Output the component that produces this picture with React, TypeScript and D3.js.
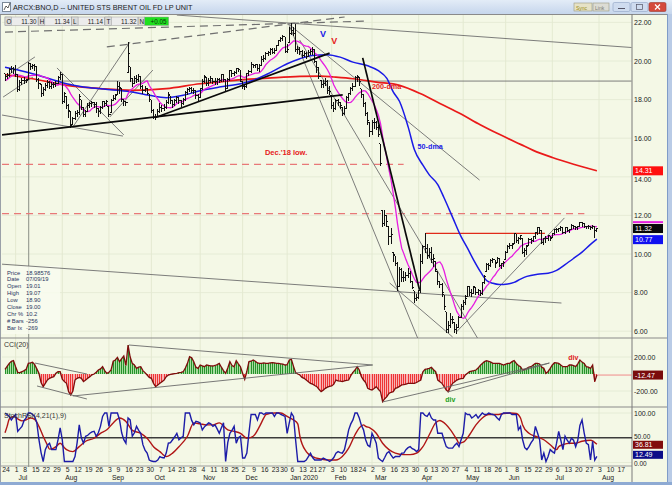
import React from 'react';
import * as d3 from 'd3';

const FONT = '"Liberation Sans", Arial, sans-serif';

// ---------- calendar ----------
const firstDay = '2019-06-24';
const lastAxisDay = '2020-08-21';
const holidays = ['2019-07-04', '2019-09-02', '2019-11-28', '2019-12-25', '2020-01-01', '2020-01-20', '2020-02-17', '2020-04-10', '2020-05-25', '2020-07-03'];
const monthNames = ['Jan', 'Feb', 'Mar', 'Apr', 'May', 'Jun', 'Jul', 'Aug', 'Sep', 'Oct', 'Nov', 'Dec'];

// ---------- price bars (BNO daily) ----------
const priorCloses = [18.7, 18.6, 18.8, 18.9, 18.8, 19.0, 19.1, 19.3, 19.4];
const closes = [
  19.20, 19.25, 19.55, 19.60, 19.55, 19.30, 18.50, 18.90, 19.00,
  19.00, 19.00, 19.85, 19.70, 19.75, 19.70, 19.05, 18.85, 18.33, 18.50,
  18.72, 18.90, 18.70, 18.77, 18.78, 18.86, 19.16, 19.30, 17.90, 18.30,
  17.70, 17.45, 16.65, 17.00, 17.30, 17.33, 18.15, 17.60, 17.25, 17.36,
  17.70, 17.78, 17.85, 17.75, 17.55, 17.38, 17.60, 17.90, 17.80, 17.90,
  17.25, 17.97, 18.05, 18.22, 18.70, 18.65, 18.00, 17.88, 17.83,
  20.40, 19.10, 18.85, 19.07, 19.03, 19.18, 18.68, 18.47, 18.57, 18.33,
  18.00, 17.43, 17.08, 17.08, 17.40, 17.60, 17.55, 17.60, 17.85, 18.25,
  17.95, 17.75, 17.95, 18.10, 17.95, 17.80, 18.00, 18.35, 18.50, 18.60,
  18.45, 18.48, 18.20, 18.10, 18.55, 18.95, 19.20, 18.83, 19.00, 19.07,
  18.96, 18.93, 19.02, 19.00, 19.30, 19.04, 18.58, 19.03, 19.51, 19.33,
  19.41, 19.60, 19.54, 19.04, 18.70, 18.67, 19.34, 19.46, 19.80,
  19.76, 19.80, 19.60, 19.77, 20.10, 20.15, 20.40, 20.45, 20.57, 20.45,
  20.55, 20.82, 21.05, 21.15, 21.25, 20.50, 20.60, 21.40,
  21.60, 21.45, 20.60, 20.60, 20.50, 20.30, 20.40, 20.25, 20.45, 20.50,
  20.60, 20.00, 19.65, 19.20, 18.80, 18.85, 18.95, 18.45, 18.40,
  17.70, 17.55, 17.95, 17.85, 17.70, 17.30, 17.55, 18.10, 18.30, 18.60,
  18.70, 19.15, 19.20, 18.95, 18.25, 17.80, 17.30, 16.90, 16.35,
  16.80, 16.80, 16.55, 16.20, 14.70, 11.60, 12.00, 11.70, 10.90, 11.00,
  10.00, 9.50, 8.30, 9.20, 8.80, 8.80, 8.90, 9.00, 8.60, 8.25,
  7.70, 7.75, 8.10, 9.60, 10.40, 10.30, 9.90, 10.10, 9.70,
  9.75, 9.20, 8.55, 8.40, 8.00, 7.30, 6.10, 6.30, 6.60, 6.60,
  6.10, 6.20, 6.70, 7.30, 7.50, 7.70, 8.30, 8.00, 7.95, 8.30,
  8.00, 8.10, 7.95, 8.50, 8.85, 9.45, 9.40, 9.65, 9.70, 9.50,
  9.75, 9.40, 9.50, 9.55, 10.10, 10.40, 10.45, 10.50, 11.05,
  10.70, 10.80, 10.95, 10.10, 10.20, 10.40, 10.75, 10.70, 10.90, 11.10,
  11.35, 11.20, 10.60, 10.80, 10.80, 10.95, 10.80, 11.05, 11.25,
  11.25, 11.30, 11.35, 11.10, 11.35, 11.20, 11.25, 11.50, 11.40, 11.35,
  11.40, 11.65, 11.60, 11.40, 11.40, 11.40, 11.35, 11.45, 11.20, 11.32,
];
const highs = [
  19.35, 19.40, 19.65, 19.75, 19.70, 19.80, 19.35, 19.00, 19.10,
  19.15, 19.07, 19.95, 19.90, 19.85, 19.85, 19.70, 19.10, 18.80, 18.65,
  18.85, 19.00, 18.95, 18.90, 18.90, 18.95, 19.20, 19.45, 19.35, 18.40,
  18.15, 17.75, 17.40, 17.10, 17.40, 17.45, 18.30, 18.00, 17.60, 17.45,
  17.80, 17.90, 17.95, 17.90, 17.85, 17.55, 17.65, 17.95, 17.95, 18.00,
  17.65, 18.05, 18.25, 18.30, 18.95, 18.90, 18.60, 18.05, 17.95,
  20.96, 19.70, 19.10, 19.20, 19.25, 19.35, 19.20, 18.75, 18.70, 18.60,
  18.30, 18.00, 17.50, 17.25, 17.50, 17.80, 17.70, 17.75, 18.00, 18.40,
  18.20, 18.00, 18.05, 18.20, 18.15, 18.00, 18.10, 18.45, 18.58, 18.65,
  18.65, 18.60, 18.50, 18.30, 18.60, 19.05, 19.30, 19.15, 19.10, 19.20,
  19.10, 19.10, 19.10, 19.12, 19.35, 19.30, 19.05, 19.10, 19.55, 19.55,
  19.50, 19.65, 19.65, 19.55, 18.95, 18.80, 19.40, 19.55, 19.95,
  19.85, 19.85, 19.85, 19.85, 20.25, 20.30, 20.45, 20.50, 20.65, 20.65,
  20.65, 20.85, 21.10, 21.25, 21.35, 21.25, 20.90, 21.75,
  21.95, 21.75, 21.90, 20.80, 20.75, 20.55, 20.50, 20.45, 20.55, 20.60,
  20.75, 20.60, 20.00, 19.70, 19.00, 19.00, 19.10, 19.00, 18.70,
  18.20, 17.85, 18.05, 18.05, 17.90, 17.60, 17.65, 18.20, 18.35, 18.65,
  18.85, 19.20, 19.30, 19.15, 18.55, 18.30, 17.85, 17.35, 16.80,
  16.95, 17.05, 16.90, 16.70, 15.70, 12.25, 12.30, 12.00, 11.40, 11.35,
  10.10, 9.90, 9.60, 9.35, 9.30, 9.10, 9.05, 9.25, 9.10, 8.60,
  8.10, 7.95, 8.15, 10.00, 10.45, 11.07, 10.50, 10.30, 10.35,
  10.00, 9.60, 9.10, 8.60, 8.50, 7.90, 7.00, 6.55, 6.95, 6.80,
  6.45, 6.35, 6.80, 7.40, 7.60, 7.85, 8.35, 8.35, 8.20, 8.35,
  8.25, 8.20, 8.15, 8.55, 8.90, 9.55, 9.55, 9.75, 9.80, 9.70,
  9.85, 9.80, 9.55, 9.65, 10.15, 10.45, 10.55, 10.55, 11.10,
  11.05, 10.90, 11.00, 10.80, 10.30, 10.45, 10.85, 10.85, 10.95, 11.15,
  11.40, 11.40, 11.20, 10.85, 10.95, 11.00, 10.95, 11.10, 11.30,
  11.35, 11.35, 11.45, 11.40, 11.40, 11.40, 11.30, 11.55, 11.50, 11.45,
  11.45, 11.68, 11.65, 11.60, 11.45, 11.50, 11.45, 11.50, 11.45, 11.34,
];
const lows = [
  19.00, 19.10, 19.20, 19.40, 19.35, 19.20, 18.40, 18.45, 18.80,
  18.85, 18.90, 19.05, 19.55, 19.60, 19.50, 18.95, 18.60, 18.15, 18.20,
  18.45, 18.65, 18.55, 18.60, 18.65, 18.70, 18.85, 19.05, 17.80, 17.85,
  17.55, 17.05, 16.55, 16.70, 16.95, 17.15, 17.25, 17.50, 17.10, 17.15,
  17.40, 17.60, 17.65, 17.60, 17.35, 17.15, 17.30, 17.55, 17.65, 17.70,
  17.10, 17.35, 17.95, 18.00, 18.25, 18.30, 17.90, 17.70, 17.70,
  19.40, 18.95, 18.70, 18.85, 18.90, 18.95, 18.60, 18.30, 18.40, 18.25,
  17.90, 17.35, 17.00, 16.95, 17.10, 17.35, 17.40, 17.45, 17.55, 17.80,
  17.80, 17.60, 17.70, 17.85, 17.80, 17.65, 17.75, 17.95, 18.25, 18.40,
  18.35, 18.30, 18.05, 17.95, 18.10, 18.50, 18.90, 18.75, 18.75, 18.90,
  18.85, 18.80, 18.80, 18.90, 18.95, 18.95, 18.45, 18.55, 19.00, 19.20,
  19.25, 19.35, 19.45, 18.95, 18.55, 18.50, 18.65, 19.25, 19.40,
  19.65, 19.65, 19.50, 19.45, 19.75, 20.00, 20.10, 20.30, 20.35, 20.40,
  20.40, 20.55, 20.80, 21.00, 21.05, 20.45, 20.45, 20.95,
  21.35, 21.30, 20.50, 20.40, 20.35, 20.20, 20.25, 20.15, 20.25, 20.35,
  20.35, 19.90, 19.40, 19.10, 18.65, 18.65, 18.75, 18.30, 18.25,
  17.55, 17.40, 17.50, 17.70, 17.55, 17.20, 17.25, 17.55, 17.95, 18.25,
  18.45, 18.70, 18.95, 18.75, 18.10, 17.65, 17.20, 16.70, 16.10,
  16.20, 16.50, 16.45, 16.10, 14.60, 11.45, 11.50, 11.45, 10.50, 10.55,
  9.60, 9.40, 8.10, 8.30, 8.60, 8.55, 8.65, 8.80, 8.50, 8.20,
  7.50, 7.60, 7.70, 8.00, 9.50, 10.10, 9.75, 9.80, 9.55,
  9.35, 9.10, 8.40, 8.25, 7.80, 7.10, 5.94, 5.95, 6.20, 6.40,
  5.95, 5.90, 6.20, 6.70, 7.10, 7.40, 7.80, 7.85, 7.80, 7.95,
  7.90, 7.90, 7.85, 7.90, 8.45, 9.10, 9.20, 9.35, 9.55, 9.30,
  9.55, 9.35, 9.25, 9.35, 9.70, 10.10, 10.30, 10.30, 10.55,
  10.60, 10.55, 10.75, 10.05, 9.85, 9.95, 10.45, 10.55, 10.65, 10.80,
  11.00, 11.05, 10.55, 10.50, 10.60, 10.70, 10.70, 10.85, 11.00,
  11.10, 11.15, 11.20, 11.05, 11.05, 11.15, 11.10, 11.25, 11.30, 11.25,
  11.25, 11.40, 11.45, 11.35, 11.30, 11.30, 11.25, 11.30, 10.85, 11.14,
];

// ---------- moving averages: [trading-day index, value] ----------
const ma50Points: [number, number][] = [
  [0, 19.68], [7, 19.51], [13, 19.34], [21, 19.08], [29, 18.82], [37, 18.65], [45, 18.56], [53, 18.48],
  [60, 18.39], [68, 18.22], [76, 18.1], [84, 18.22], [92, 18.46], [101, 18.65], [111, 18.82], [117, 19.0],
  [124, 19.34], [133, 19.86], [139, 20.12], [145, 20.29], [152, 20.33], [158, 20.2], [164, 19.94], [171, 19.75],
  [176, 19.5], [180, 19.1], [183, 18.4], [186, 17.9], [190, 16.6], [193, 15.4], [197, 14.6], [200, 14.1],
  [204, 13.6], [207, 12.9], [211, 11.9], [215, 10.9], [218, 10.3], [221, 9.67], [224, 9.1], [227, 8.63],
  [230, 8.48], [233, 8.42], [237, 8.45], [240, 8.53], [243, 8.7], [246, 8.84], [251, 8.95], [256, 9.0],
  [260, 9.15], [264, 9.45], [268, 9.77], [272, 10.1], [276, 10.5], [279, 10.77],
];
const ma200Points: [number, number][] = [
  [0, 19.3], [13, 19.08], [29, 18.74], [45, 18.57], [60, 18.48], [76, 18.57], [92, 18.82], [101, 18.91],
  [108, 19.0], [124, 19.11], [139, 19.2], [149, 19.22], [155, 19.17], [164, 19.08], [175, 18.91], [186, 18.74],
  [196, 18.3], [205, 17.8], [215, 17.25], [224, 16.7], [233, 16.2], [243, 15.68], [249, 15.37], [258, 15.0],
  [268, 14.65], [279, 14.31],
];

// ---------- CCI(20) ----------
const cci = [
  55, 90, 125, 150, 157, 86, 20, 16, 27, 40,
  55, 125, 130, 137, 110, 60, 8, -100, -149, -110,
  -70, -51, -40, -31, 8, 27, 27, -60, -90, -110,
  -208, -247, -200, -71, -51, -40, -51, -90, -71, -50,
  -31, -10, 0, 20, 47, 60, 86, 40, 8, 20,
  47, 150, 165, 196, 145, 180, 212, 100, 341, 200,
  125, 106, 67, 80, 86, 40, 16, -12, -40, -51,
  -110, -149, -130, -110, -90, -71, -31, -12, -5, 0,
  5, 8, 15, 20, 27, 70, 125, 204, 190, 145,
  80, 67, 106, 95, 86, 106, 100, 95, 94, 100,
  110, 125, 80, 40, 8, 70, 145, 100, 86, 157,
  120, 86, 8, -63, 30, 145, 150, 165, 150, 130,
  125, 125, 130, 125, 125, 130, 133, 130, 125, 125,
  120, 115, 106, 110, 165, 172, 90, 16, 0, -12,
  -40, -51, -71, -90, -110, -120, -135, -149, -180, -208,
  -190, -169, -155, -145, -141, -120, -71, -80, -85, -90,
  -80, -75, -71, -20, 20, 47, 86, 47, -31, -71,
  -100, -169, -180, -188, -170, -149, -180, -208, -325, -290,
  -267, -227, -215, -208, -169, -160, -145, -129, -125, -120,
  -110, -110, -110, -110, -100, -85, -71, 27, 55, 60,
  67, 78, 50, 27, -71, -90, -110, -150, -188, -208,
  -149, -110, -90, -71, -60, -55, -51, -12, 10, 27,
  35, 40, 47, 70, 100, 125, 145, 157, 150, 140,
  125, 125, 125, 125, 115, 106, 115, 125, 125, 145,
  157, 125, 100, 86, 47, 55, 67, 80, 86, 106,
  125, 125, 118, 80, 67, 8, 30, 67, 106, 133,
  130, 125, 105, 86, 86, 86, 106, 106, 100, 86,
  120, 165, 140, 125, 86, 80, 67, 106, -90, -12.47,
];

// ---------- StochRSI(4,21(1),9) ----------
const stochK = [
  100, 97, 93, 86, 92, 97, 63, 68, 73, 85,
  90, 100, 100, 97, 93, 80, 46, 20, 2, 26,
  35, 39, 26, 26, 26, 46, 70, 46, 2, 2,
  2, 2, 2, 12, 40, 76, 50, 39, 53, 55,
  59, 62, 63, 53, 60, 73, 93, 100, 100, 73,
  100, 100, 100, 100, 86, 60, 46, 39, 90, 86,
  53, 60, 73, 65, 59, 36, 25, 19, 5, 3,
  2, 2, 5, 12, 10, 9, 19, 39, 40, 46,
  52, 59, 46, 50, 53, 100, 100, 100, 85, 76,
  83, 82, 80, 66, 72, 76, 80, 78, 73, 76,
  68, 59, 70, 80, 2, 40, 59, 65, 73, 39,
  50, 53, 9, 9, 19, 60, 97, 97, 97, 86,
  100, 100, 97, 100, 100, 100, 100, 93, 100, 100,
  97, 95, 93, 59, 80, 100, 93, 45, 2, 2,
  2, 2, 5, 12, 19, 10, 5, 5, 5, 5,
  9, 7, 5, 2, 5, 10, 19, 22, 20, 19,
  26, 45, 66, 78, 86, 100, 100, 90, 75, 66,
  46, 35, 32, 59, 50, 39, 9, 5, 2, 10,
  19, 22, 15, 9, 12, 12, 12, 19, 19, 26,
  30, 32, 28, 26, 22, 26, 100, 100, 95, 93,
  100, 90, 86, 86, 59, 59, 59, 45, 32, 29,
  29, 29, 35, 39, 32, 46, 59, 100, 97, 97,
  90, 93, 97, 90, 95, 100, 97, 97, 100, 98,
  97, 95, 90, 86, 97, 100, 100, 100, 100, 97,
  97, 97, 66, 73, 46, 30, 26, 32, 40, 46,
  73, 60, 46, 5, 19, 2, 12, 26, 22, 19,
  39, 63, 45, 26, 53, 45, 39, 49, 45, 32,
  45, 75, 86, 60, 39, 36, 5, 43, 5, 12.49,
];
const stochSignal: [number, number][] = [
  [0, 60], [1, 73], [2, 88], [4, 93], [6, 88], [8, 84], [10, 86], [12, 90], [14, 87], [16, 73], [18, 53],
  [20, 35], [21, 27], [23, 29], [24, 32], [26, 39], [28, 30], [29, 26], [32, 22], [35, 32], [38, 43],
  [42, 49], [45, 59], [48, 66], [51, 80], [54, 90], [57, 83], [60, 65], [64, 59], [67, 49], [70, 32],
  [73, 22], [76, 12], [79, 19], [82, 32], [86, 53], [89, 80], [92, 78], [95, 76], [98, 76], [101, 80],
  [105, 66], [108, 63], [111, 59], [114, 49], [117, 53], [120, 73], [122, 90], [123, 97], [127, 100],
  [130, 100], [133, 93], [136, 86], [138, 78], [139, 53], [142, 22], [145, 12], [149, 7], [152, 5],
  [156, 5], [159, 12], [162, 29], [165, 56], [167, 70], [169, 76], [170, 73], [172, 70], [175, 59],
  [178, 39], [181, 26], [184, 19], [188, 16], [191, 16], [194, 19], [195, 22], [197, 32], [200, 56],
  [203, 80], [205, 85], [206, 83], [210, 66], [213, 46], [214, 39], [216, 41], [219, 56], [222, 76],
  [225, 90], [228, 97], [232, 97], [235, 99], [238, 100], [241, 99], [243, 90], [244, 76], [247, 59],
  [250, 53], [254, 46], [257, 36], [260, 26], [261, 32], [263, 36], [266, 39], [269, 39], [272, 43],
  [276, 45], [279, 36.81],
];

// ---------- drawn annotations in data space: [[dayIndex, value], [dayIndex, value]] ----------
const thickTrendlines: [number, number][][] = [
  [[-1.4, 16.17], [159.2, 18.24]],
  [[71.6, 17.1], [153.0, 20.41]],
  [[168.6, 20.16], [195.4, 8.14]],
];
const thinTrendlines: [number, number][][] = [
  [[81.0, 22.38], [295.3, 20.7]],
  [[133.7, 21.92], [194.5, 5.65]],
  [[138.9, 21.09], [222.7, 5.65]],
  [[134.2, 21.87], [223.7, 13.83]],
  [[-2.35, 9.48], [262.3, 7.46]],
  [[181.3, 8.5], [211.0, 5.7]],
  [[212.8, 5.96], [263.7, 11.87]],
  [[23.5, 18.96], [295.3, 18.96]],
  [[1.4, 19.27], [14.1, 20.21]],
  [[-0.9, 18.13], [13.2, 19.17]],
  [[24.5, 19.64], [56.0, 16.17]],
  [[32.0, 16.58], [58.9, 20.98]],
  [[-1.4, 17.2], [55.6, 16.11]],
  [[49.4, 17.1], [69.7, 19.53]],
];
const dashedTrendlines: [number, number][][] = [
  [[0, 21.5], [170.5, 22.07]],
  [[48.0, 20.73], [160.1, 22.28]],
];
const redLevels = [
  { from: -1.4, to: 187.9, value: 14.64, dashed: true },
  { from: -1.4, to: 273.1, value: 12.09, dashed: true },
  { from: 198.3, to: 254.5, value: 11.07, dashed: false },
];
const cciTrendlines: [number, number][][] = [
  [[14.1, 129], [38.6, 0]],
  [[15.1, -141], [38.6, -294]],
  [[32.0, -259], [173.3, 106]],
  [[58.4, 341], [173.3, 106]],
  [[178.0, -329], [256.6, 129]],
  [[208.6, -212], [256.6, 129]],
];

const priceTicks = [6, 8, 10, 12, 14, 16, 18, 20, 22];
const cciTicks = [200, -200];
const stochTicks = [100, 50, 0];
const quote = { O: '11.30', H: '11.34', L: '11.14', T: '11.32', N: '+0.05' };
const dataWindow = [
  ['Price', '18.98576'], ['Date', '07/09/19'], ['Open', '19.01'], ['High', '19.07'], ['Low', '18.90'],
  ['Close', '19.00'], ['Chr %', '10.2'], ['# Bars', '-256'], ['Bar Ix', '-269'],
];
const cursorIndex = 10;
const title = 'ARCX:BNO,D -- UNITED STS BRENT OIL FD LP UNIT';

function buildDays(): Date[] {
  const hol = new Set(holidays);
  const out: Date[] = [];
  const d = new Date(firstDay + 'T00:00:00Z');
  const e = new Date(lastAxisDay + 'T00:00:00Z');
  while (d <= e) {
    const wd = d.getUTCDay();
    const iso = d.toISOString().slice(0, 10);
    if (wd !== 0 && wd !== 6 && !hol.has(iso)) out.push(new Date(d.getTime()));
    d.setUTCDate(d.getUTCDate() + 1);
  }
  return out;
}

export default function App() {
  const days = buildDays();
  const PL = 2, PR = 632;
  const MAIN = [15, 338], CCIP = [338, 407], STO = [407, 466];
  const xs = d3.scaleLinear().domain([0, 280]).range([5, 599]);
  const ys = d3.scaleLinear().domain([6, 22]).range([331.2, 22.4]);
  const yc = d3.scaleLinear().domain([-200, 200]).range([391, 357]);
  const yk = d3.scaleLinear().domain([0, 100]).range([462.5, 413]);

  const all = [...priorCloses, ...closes];
  const sma10 = closes.map((_, i) => d3.mean(all.slice(i, i + 10)) as number);

  const lineIdx = (sy: d3.ScaleLinear<number, number>) =>
    d3.line<number>().x((_, i) => xs(i)).y((v) => sy(v));
  const linePts = (sy: d3.ScaleLinear<number, number>) =>
    d3.line<[number, number]>().x((p) => xs(p[0])).y((p) => sy(p[1])).curve(d3.curveMonotoneX);

  const cciPos = d3.area<number>().x((_, i) => xs(i)).y0(yc(0)).y1((v) => yc(Math.max(0, v)));
  const cciNeg = d3.area<number>().x((_, i) => xs(i)).y0(yc(0)).y1((v) => yc(Math.min(0, v)));

  // week & month labels
  const weekLabels: { i: number; t: string }[] = [];
  const monthLabels: { i: number; t: string }[] = [];
  const monthStarts: number[] = [];
  days.forEach((d, i) => {
    const prev = days[i - 1];
    const wk = (dd: Date) => Math.floor((dd.getTime() / 86400000 + 3) / 7);
    if (!prev || wk(prev) !== wk(d)) weekLabels.push({ i, t: String(d.getUTCDate()) });
    if (prev && prev.getUTCMonth() !== d.getUTCMonth()) {
      const m = d.getUTCMonth();
      monthLabels.push({ i, t: m === 0 ? `${monthNames[m]} ${d.getUTCFullYear()}` : monthNames[m] });
      monthStarts.push(i);
    }
  });

  const last = closes.length - 1;
  const cursorX = xs(cursorIndex) + 2.5;
  const txt = { fontFamily: FONT, fontSize: 7, fill: '#222' } as const;

  const valueBox = (y: number, label: string, color: string, key: string, h = 9) => (
    <g key={key}>
      <rect x={633} y={y - h / 2} width={30} height={h} fill={color} />
      <text x={635} y={y + 2.5} style={{ ...txt, fill: '#fff' }}>{label}</text>
    </g>
  );

  return (
    <svg width={672} height={485} style={{ position: 'absolute', left: 0, top: 0, display: 'block' }}>
      <defs>
        <linearGradient id="tb" x1="0" y1="0" x2="0" y2="1">
          <stop offset="0" stopColor="#e3ecf7" />
          <stop offset="1" stopColor="#c6d6ec" />
        </linearGradient>
        <clipPath id="cMain"><rect x={PL} y={MAIN[0]} width={PR - PL} height={MAIN[1] - MAIN[0]} /></clipPath>
        <clipPath id="cCci"><rect x={PL} y={CCIP[0]} width={PR - PL} height={CCIP[1] - CCIP[0]} /></clipPath>
        <clipPath id="cSto"><rect x={PL} y={STO[0]} width={PR - PL} height={STO[1] - STO[0]} /></clipPath>
      </defs>
      {/* window chrome */}
      <rect x={0} y={0} width={672} height={485} fill="#f4f8e6" />
      <rect x={0} y={0} width={672} height={14} fill="url(#tb)" />
      <rect x={2.5} y={2.5} width={8} height={9} fill="#fff" stroke="#7a8898" />
      <path d="M4,10 L6,6 L8,8 L10,3" stroke="#333" fill="none" strokeWidth={0.8} />
      <text x={13} y={10} style={{ fontFamily: FONT, fontSize: 7.3, fill: '#1b1b1b' }}>{title}</text>
      <rect x={574} y={3} width={18} height={8} fill="#e6e2c6" stroke="#9c9a80" strokeWidth={0.6} />
      <text x={576} y={9.5} style={{ fontFamily: FONT, fontSize: 5, fill: '#9a8a10' }}>Sync</text>
      <rect x={593} y={3} width={16} height={8} fill="#dcdcd4" stroke="#9c9a80" strokeWidth={0.6} />
      <text x={595} y={9.5} style={{ fontFamily: FONT, fontSize: 5, fill: '#7a7a70' }}>Link</text>
      <rect x={613} y={2.5} width={17} height={9} rx={1.5} fill="#cfdcef" stroke="#8ea3c2" strokeWidth={0.6} />
      <line x1={618} x2={625} y1={8.5} y2={8.5} stroke="#556" />
      <rect x={631} y={2.5} width={17} height={9} rx={1.5} fill="#cfdcef" stroke="#8ea3c2" strokeWidth={0.6} />
      <rect x={636.5} y={4.5} width={6} height={5} fill="none" stroke="#556" strokeWidth={0.7} />
      <rect x={649} y={2.5} width={17} height={9} rx={1.5} fill="#d4493c" stroke="#9a3a30" strokeWidth={0.6} />
      <path d="M655,4.5 L660,9.5 M660,4.5 L655,9.5" stroke="#fff" strokeWidth={1.2} />
      <rect x={667} y={14} width={5} height={471} fill="#b9cbe6" />
      <line x1={667.5} x2={667.5} y1={14} y2={485} stroke="#7f9cc8" />
      <rect x={0} y={482} width={672} height={3} fill="#8eaad3" />
      <line x1={0.5} x2={0.5} y1={14} y2={482} stroke="#9aa0a8" />

      {/* grid */}
      {monthStarts.map((i) => (xs(i) < PR ? (
        <line key={'vg' + i} x1={xs(i)} x2={xs(i)} y1={MAIN[0]} y2={STO[1]} stroke="#dfe6cc" strokeWidth={0.8} />
      ) : null))}
      {priceTicks.map((p) => (
        <line key={'hg' + p} x1={PL} x2={PR} y1={ys(p)} y2={ys(p)} stroke="#e2e8d2" strokeWidth={0.8} />
      ))}
      {cciTicks.map((v) => (
        <line key={'cg' + v} x1={PL} x2={PR} y1={yc(v)} y2={yc(v)} stroke="#e2e8d2" strokeWidth={0.8} />
      ))}
      {[100, 0].map((v) => (
        <line key={'sg' + v} x1={PL} x2={PR} y1={yk(v)} y2={yk(v)} stroke="#e2e8d2" strokeWidth={0.8} />
      ))}

      {/* panel frames */}
      <line x1={0} x2={667} y1={14.5} y2={14.5} stroke="#8a8a8a" />
      <line x1={0} x2={667} y1={MAIN[1]} y2={MAIN[1]} stroke="#8a8a8a" />
      <line x1={0} x2={667} y1={CCIP[1]} y2={CCIP[1]} stroke="#8a8a8a" />
      <line x1={0} x2={PR} y1={STO[1]} y2={STO[1]} stroke="#9a9a9a" />
      <line x1={PR} x2={PR} y1={14} y2={482} stroke="#7a7a7a" />

      {/* crosshair */}
      <line x1={cursorX} x2={cursorX} y1={15} y2={467} stroke="#8a8f86" strokeWidth={1} />

      {/* data window */}
      <rect x={2} y={266} width={58} height={68} fill="#f8fbef" opacity={0.85} />
      {dataWindow.map(([k, v], j) => (
        <g key={'dw' + k}>
          <text x={7} y={274.5 + j * 6.95} style={{ fontFamily: FONT, fontSize: 5.8, fill: '#2a3560' }}>{k}</text>
          <text x={26} y={274.5 + j * 6.95} style={{ fontFamily: FONT, fontSize: 5.8, fill: '#2a3560' }}>{v}</text>
        </g>
      ))}

      {/* ===== main panel ===== */}
      <g clipPath="url(#cMain)">
        {redLevels.map((r, j) => (
          <line key={'rl' + j} x1={xs(r.from)} x2={xs(r.to)} y1={ys(r.value)} y2={ys(r.value)}
            stroke={r.dashed ? '#e87878' : '#e02a1a'} strokeWidth={r.dashed ? 1.3 : 1.4}
            strokeDasharray={r.dashed ? '7,5' : undefined} />
        ))}
        {thinTrendlines.map((l, j) => (
          <line key={'tl' + j} x1={xs(l[0][0])} y1={ys(l[0][1])} x2={xs(l[1][0])} y2={ys(l[1][1])}
            stroke="#6e6e6e" strokeWidth={0.9} />
        ))}
        {dashedTrendlines.map((l, j) => (
          <line key={'dl' + j} x1={xs(l[0][0])} y1={ys(l[0][1])} x2={xs(l[1][0])} y2={ys(l[1][1])}
            stroke="#707070" strokeWidth={1.2} strokeDasharray="8,5" />
        ))}
        <path d={linePts(ys)(ma200Points) || ''} fill="none" stroke="#ea1a1a" strokeWidth={1.7} />
        <path d={linePts(ys)(ma50Points) || ''} fill="none" stroke="#1a1ae6" strokeWidth={1.5} />
        <path d={lineIdx(ys)(sma10) || ''} fill="none" stroke="#e61ee0" strokeWidth={1.3} />
        <g stroke="#111" strokeWidth={1} shapeRendering="crispEdges">
          {closes.map((c, i) => {
            const x = xs(i);
            const prev = i > 0 ? closes[i - 1] : priorCloses[priorCloses.length - 1];
            const o = Math.min(Math.max(prev, lows[i]), highs[i]);
            return (
              <g key={'b' + i}>
                <line x1={x} x2={x} y1={ys(highs[i])} y2={ys(lows[i]) + 0.5} />
                <line x1={x - 1.5} x2={x} y1={ys(o)} y2={ys(o)} />
                <line x1={x} x2={x + 1.6} y1={ys(c)} y2={ys(c)} />
              </g>
            );
          })}
        </g>
        {thickTrendlines.map((l, j) => (
          <line key={'kl' + j} x1={xs(l[0][0])} y1={ys(l[0][1])} x2={xs(l[1][0])} y2={ys(l[1][1])}
            stroke="#0a0a0a" strokeWidth={1.7} />
        ))}
      </g>
      <text x={xs(148.5)} y={ys(21.25)} style={{ fontFamily: FONT, fontSize: 9, fontWeight: 700, fill: '#1a1ae6' }}>V</text>
      <text x={xs(153.8)} y={ys(20.9)} style={{ fontFamily: FONT, fontSize: 9, fontWeight: 700, fill: '#e61a1a' }}>V</text>
      <text x={xs(173)} y={ys(18.55)} style={{ fontFamily: FONT, fontSize: 7.2, fontWeight: 700, fill: '#e61a1a' }}>200-dma</text>
      <text x={xs(194.5)} y={ys(15.45)} style={{ fontFamily: FONT, fontSize: 7.2, fontWeight: 700, fill: '#1a1ae6' }}>50-dma</text>
      <text x={xs(122.5)} y={ys(15.15)} style={{ fontFamily: FONT, fontSize: 7.5, fontWeight: 700, fill: '#e61a1a' }}>Dec.'18 low.</text>

      {/* quote bar */}
      {(['O', 'H', 'L', 'T'] as const).map((k, j) => {
        const x0 = 5 + j * 33.3;
        return (
          <g key={'q' + k}>
            <rect x={x0} y={17} width={33} height={8.5} fill="#ececec" stroke="#9a9a9a" strokeWidth={0.5} />
            <rect x={x0} y={17} width={6.5} height={8.5} fill="#dadada" stroke="#9a9a9a" strokeWidth={0.5} />
            <text x={x0 + 1.5} y={23.6} style={{ fontFamily: FONT, fontSize: 6.3, fill: '#222' }}>{k}</text>
            <text x={x0 + 31.5} y={23.6} textAnchor="end" style={{ fontFamily: FONT, fontSize: 6.3, fill: '#222' }}>{quote[k]}</text>
          </g>
        );
      })}
      <rect x={138.2} y={17} width={6.5} height={8.5} fill="#dadada" stroke="#9a9a9a" strokeWidth={0.5} />
      <text x={139.5} y={23.6} style={{ fontFamily: FONT, fontSize: 6.3, fill: '#222' }}>N</text>
      <rect x={144.7} y={17} width={24} height={8.5} fill="#1fe01f" stroke="#9a9a9a" strokeWidth={0.5} />
      <text x={166.5} y={23.6} textAnchor="end" style={{ fontFamily: FONT, fontSize: 6.3, fill: '#103010' }}>{quote.N}</text>

      {/* ===== CCI panel ===== */}
      <g clipPath="url(#cCci)">
        <path d={cciPos(cci) || ''} fill="#a8dca0" />
        <path d={cciNeg(cci) || ''} fill="#f8b4b4" />
        <g strokeWidth={1} shapeRendering="crispEdges">
          {cci.map((v, i) => (
            <line key={'c' + i} x1={xs(i)} x2={xs(i)} y1={yc(0)} y2={yc(v)} stroke={v >= 0 ? '#25922a' : '#ee3434'} />
          ))}
        </g>
        <line x1={xs(last)} x2={PR} y1={yc(cci[last])} y2={yc(cci[last])} stroke="#f08a8a" strokeWidth={1} />
        <path d={lineIdx(yc)(cci) || ''} fill="none" stroke="#7e0c0c" strokeWidth={1.3} />
        {cciTrendlines.map((l, j) => (
          <line key={'ct' + j} x1={xs(l[0][0])} y1={yc(l[0][1])} x2={xs(l[1][0])} y2={yc(l[1][1])}
            stroke="#6a6a6a" strokeWidth={0.9} />
        ))}
      </g>
      <text x={4} y={347} style={{ ...txt, fill: '#333' }}>CCI(20)</text>
      <text x={xs(265.5)} y={360} style={{ fontFamily: FONT, fontSize: 7, fontWeight: 700, fill: '#e02020' }}>div</text>
      <text x={xs(207.5)} y={402} style={{ fontFamily: FONT, fontSize: 7, fontWeight: 700, fill: '#22a022' }}>div</text>

      {/* ===== StochRSI panel ===== */}
      <g clipPath="url(#cSto)">
        <line x1={PL} x2={PR} y1={yk(50)} y2={yk(50)} stroke="#3c3c3c" strokeWidth={1.6} />
        <path d={linePts(yk)(stochSignal) || ''} fill="none" stroke="#b01616" strokeWidth={1.4} />
        <path d={lineIdx(yk)(stochK) || ''} fill="none" stroke="#1c1ca8" strokeWidth={1.4} />
      </g>
      <text x={4} y={418} style={{ ...txt, fill: '#333' }}>StochRSI(4,21(1),9)</text>

      {/* ===== date axis ===== */}
      {weekLabels.map(({ i, t }) => (xs(i) < 626 ? (
        <text key={'w' + i} x={xs(i) + 1} y={472} textAnchor="middle" style={{ ...txt, fontSize: 6.8 }}>{t}</text>
      ) : null))}
      {monthLabels.map(({ i, t }) => (xs(i) < 626 ? (
        <text key={'m' + i} x={xs(i) + 3} y={480} style={{ ...txt, fontSize: 6.8 }}>{t}</text>
      ) : null))}

      {/* ===== right axis ===== */}
      {priceTicks.map((p) => (
        <text key={'pt' + p} x={634} y={ys(p) + (p === 14 ? 5 : 2.5)} style={txt}>{p.toFixed(2)}</text>
      ))}
      {cciTicks.map((v) => (
        <text key={'ct' + v} x={634} y={yc(v) + 2.5} style={txt}>{v.toFixed(2)}</text>
      ))}
      {stochTicks.map((v) => (
        <text key={'st' + v} x={634} y={yk(v) + (v === 0 ? 3.5 : v === 50 ? 1.5 : 2.5)} style={{ ...txt, fontSize: v === 100 ? 7 : 6.5 }}>{v.toFixed(2)}</text>
      ))}
      {valueBox(ys(ma200Points[ma200Points.length - 1][1]), ma200Points[ma200Points.length - 1][1].toFixed(2), '#ff1010', 'v200')}
      <rect x={633} y={ys(sma10[last]) - 5.5} width={30} height={2} fill="#e61ee0" />
      {valueBox(ys(closes[last]), closes[last].toFixed(2), '#080808', 'vc')}
      {valueBox(ys(ma50Points[ma50Points.length - 1][1]) + 0.5, ma50Points[ma50Points.length - 1][1].toFixed(2), '#1010f0', 'v50')}
      {valueBox(yc(cci[last]), cci[last].toFixed(2), '#7a0c0c', 'vcci')}
      {valueBox(yk(stochSignal[stochSignal.length - 1][1]) + 0.5, stochSignal[stochSignal.length - 1][1].toFixed(2), '#820c0c', 'vsd', 8)}
      {valueBox(yk(stochK[last]) - 1.5, stochK[last].toFixed(2), '#0c0c88', 'vsk', 8)}
    </svg>
  );
}
